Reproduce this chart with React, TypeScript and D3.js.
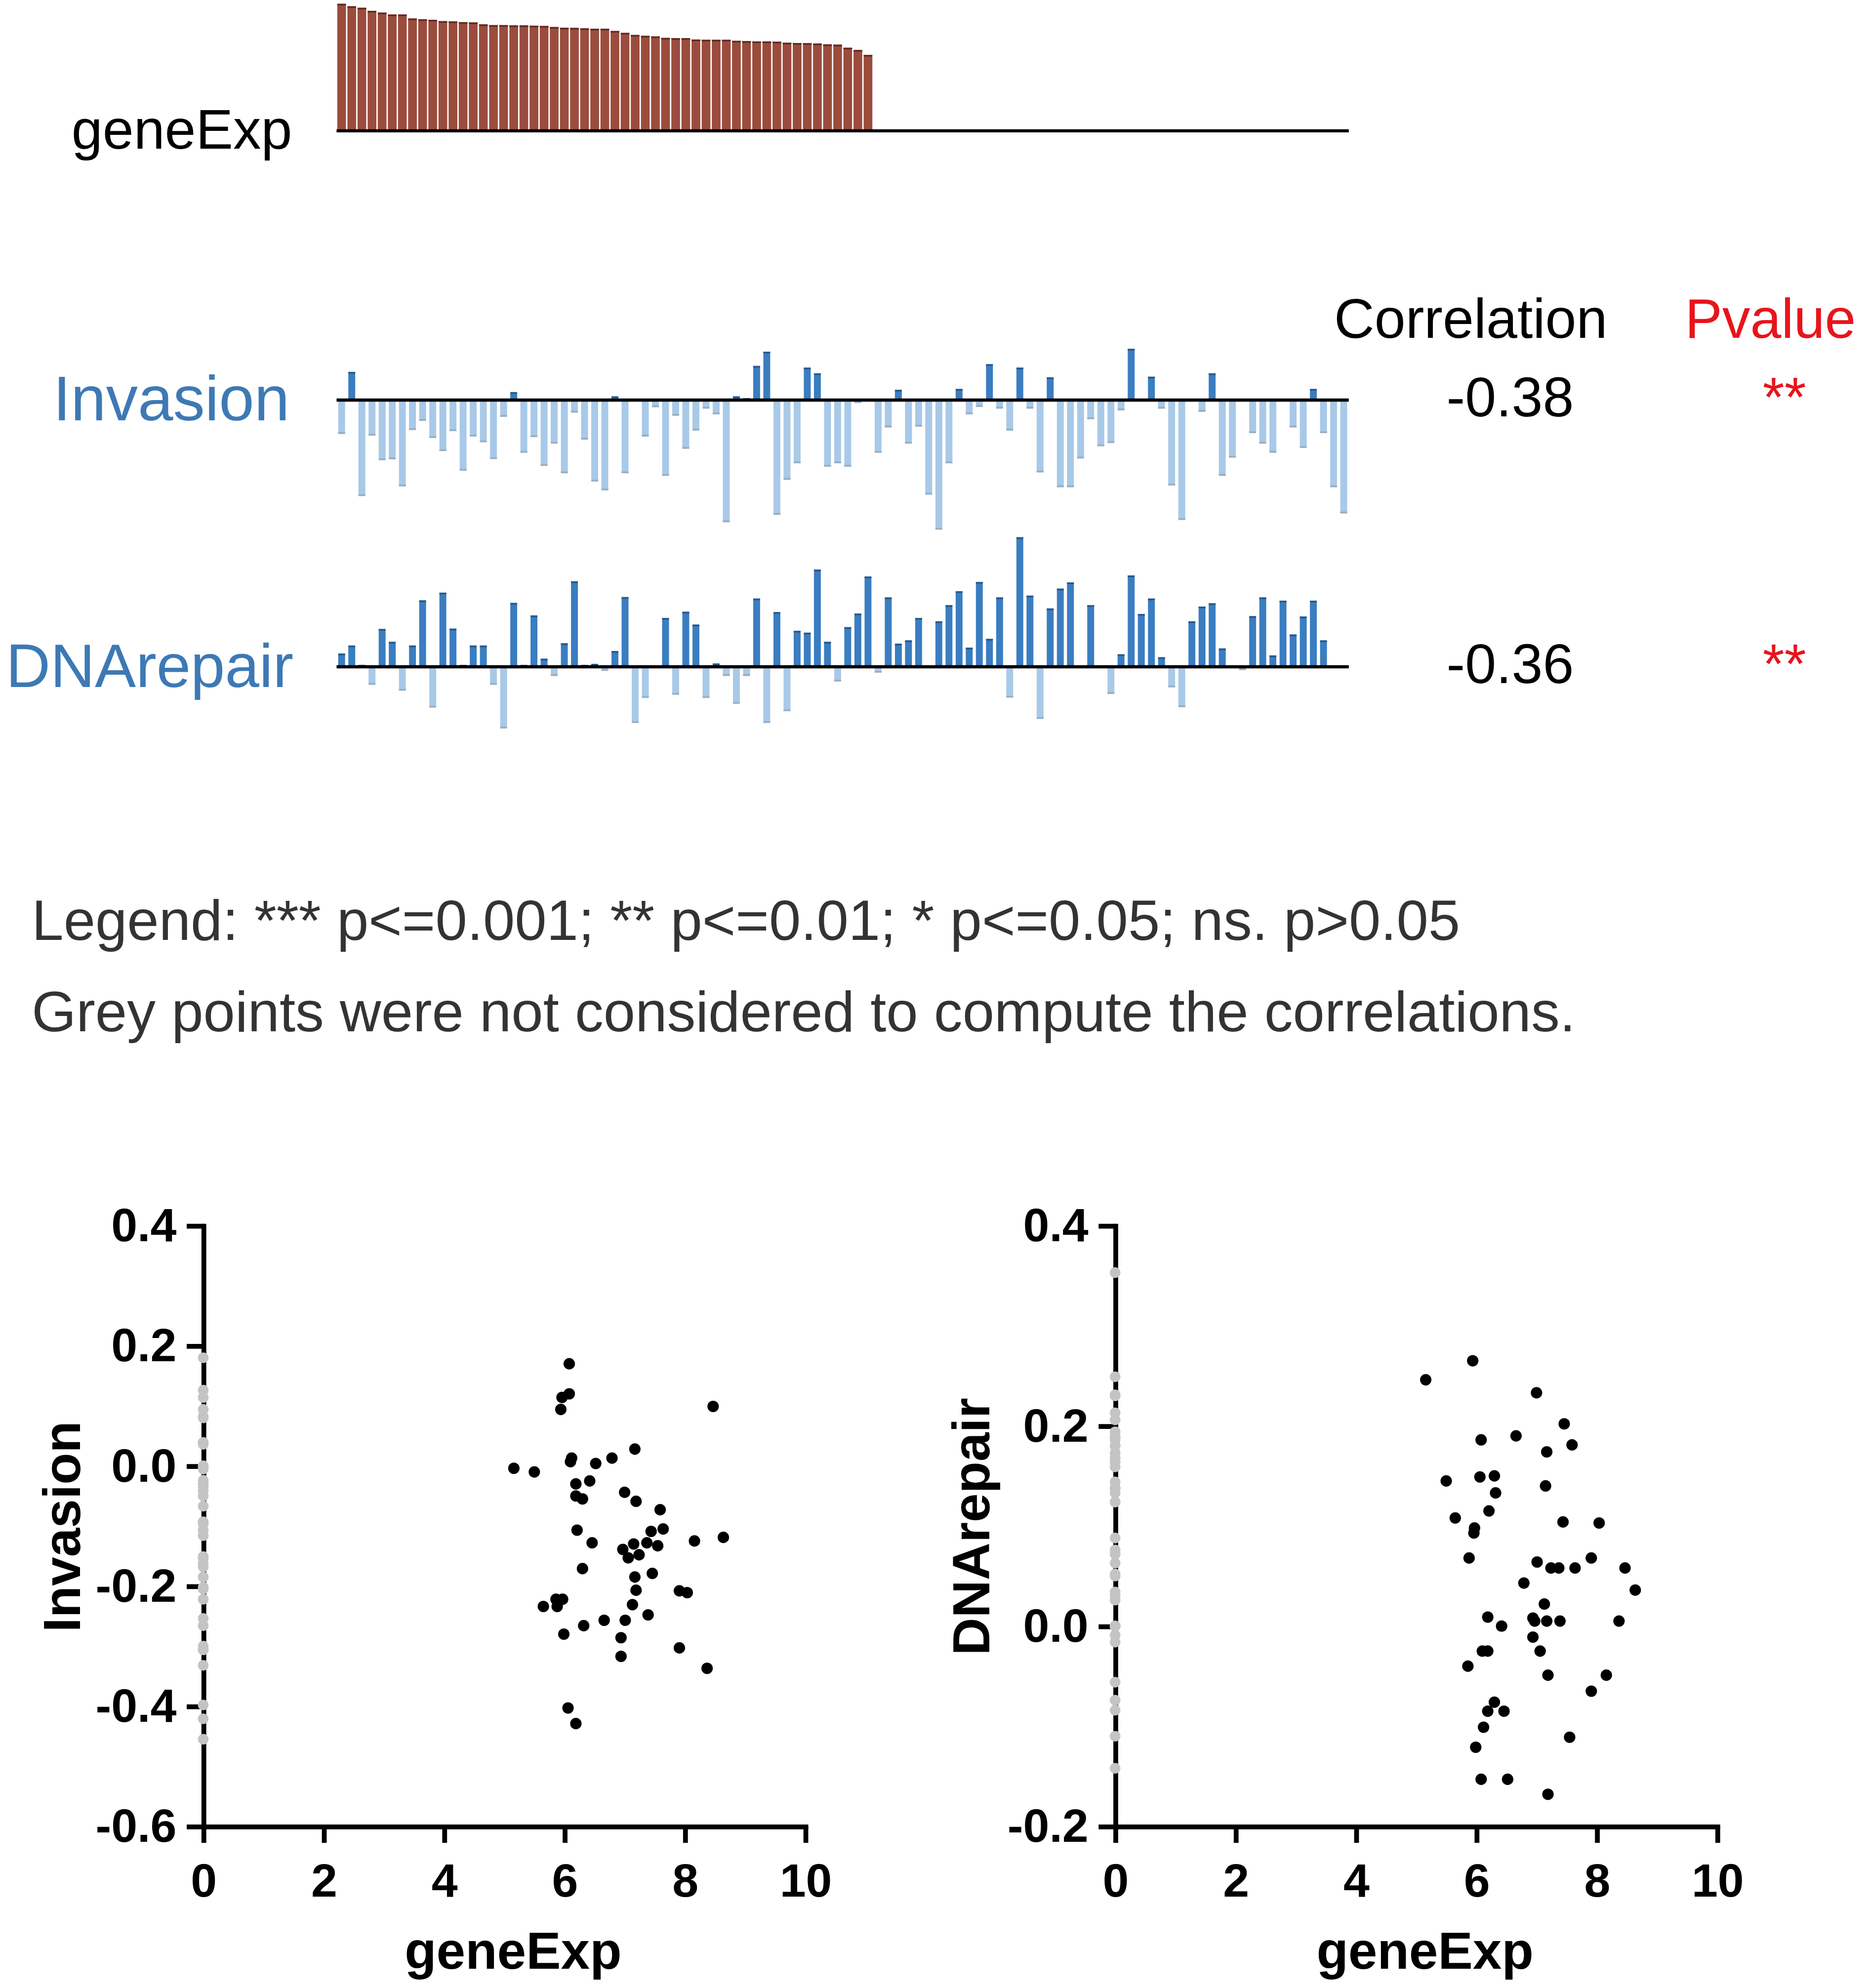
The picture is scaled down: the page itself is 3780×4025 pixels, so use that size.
import React, { useRef, useEffect } from 'react';
import * as d3 from 'd3';

// one value per sample, samples sorted by geneExp (descending)
const geneExp = [
  8.64, 8.47, 8.37, 8.16, 8.04, 7.91, 7.91, 7.64, 7.59, 7.55,
  7.46, 7.44, 7.39, 7.37, 7.24, 7.19, 7.19, 7.17, 7.17, 7.15,
  7.13, 7.06, 7.01, 7.0, 6.97, 6.94, 6.94, 6.79, 6.66, 6.52,
  6.46, 6.42, 6.32, 6.3, 6.3, 6.21, 6.19, 6.19, 6.19, 6.12,
  6.1, 6.08, 6.08, 6.06, 5.99, 5.97, 5.96, 5.94, 5.88, 5.86,
  5.65, 5.5, 5.16, 0, 0, 0, 0, 0, 0, 0,
  0, 0, 0, 0, 0, 0, 0, 0, 0, 0,
  0, 0, 0, 0, 0, 0, 0, 0, 0, 0,
  0, 0, 0, 0, 0, 0, 0, 0, 0, 0,
  0, 0, 0, 0, 0, 0, 0, 0, 0, 0
];

const invasion = [
  -0.119, 0.099, -0.337, -0.125, -0.211, -0.208, -0.303, -0.105, -0.073, -0.133,
  -0.179, -0.109, -0.248, -0.128, -0.148, -0.207, -0.059, 0.028, -0.185, -0.13,
  -0.231, -0.153, -0.257, -0.044, -0.139, -0.286, -0.317, 0.013, -0.257, 0.004,
  -0.128, -0.025, -0.266, -0.055, -0.171, -0.107, -0.03, -0.05, -0.429, 0.013,
  0.007, 0.12, 0.17, -0.403, -0.28, -0.222, 0.114, 0.094, -0.234, -0.222,
  -0.234, -0.01, -0.004, -0.185, -0.096, 0.036, -0.153, -0.093, -0.332, -0.455,
  -0.222, 0.039, -0.05, -0.024, 0.126, -0.03, -0.107, 0.114, -0.03, -0.254,
  0.08, -0.306, -0.306, -0.205, -0.067, -0.162, -0.151, -0.036, 0.18, 0.0,
  0.082, -0.03, -0.3, -0.421, -0.005, -0.041, 0.094, -0.266, -0.202, -0.005,
  -0.116, -0.153, -0.185, 0.0, -0.096, -0.168, 0.039, -0.116, -0.306, -0.398
];

const dnaRepair = [
  0.036, 0.058, 0.005, -0.049, 0.103, 0.068, -0.065, 0.058, 0.181, -0.111,
  0.202, 0.104, 0.005, 0.058, 0.058, -0.049, -0.168, 0.174, 0.005, 0.14,
  0.022, -0.025, 0.064, 0.233, 0.005, 0.008, -0.011, 0.043, 0.19, -0.153,
  -0.085, 0.0, 0.133, -0.076, 0.15, 0.115, -0.085, 0.009, -0.025, -0.101,
  -0.025, 0.186, -0.153, 0.149, -0.121, 0.098, 0.093, 0.265, 0.068, -0.04,
  0.108, 0.145, 0.246, -0.016, 0.189, 0.063, 0.072, 0.133, 0.0, 0.124,
  0.168, 0.206, 0.052, 0.231, 0.076, 0.189, -0.084, 0.353, 0.194, -0.142,
  0.159, 0.213, 0.23, 0.0, 0.168, 0.0, -0.074, 0.034, 0.249, 0.144,
  0.186, 0.026, -0.056, -0.11, 0.124, 0.164, 0.173, 0.05, 0.0, -0.009,
  0.138, 0.189, 0.031, 0.18, 0.088, 0.137, 0.18, 0.072, 0.0, 0.0
];

const correlations = ['-0.38', '-0.36'];
const pvalues = ['**', '**'];
const xTicks = [0, 2, 4, 6, 8, 10];
const invasionTicks = [-0.6, -0.4, -0.2, 0, 0.2, 0.4];
const dnaRepairTicks = [-0.2, 0, 0.2, 0.4];
const legendLines = [
  'Legend: *** p<=0.001; ** p<=0.01; * p<=0.05; ns. p>0.05',
  'Grey points were not considered to compute the correlations.'
];

const W = 1470;
const H = 1565.3;
const FONT = 'Arial, "Liberation Sans", Helvetica, sans-serif';

const App: React.FC = () => {
  const svgRef = useRef<SVGSVGElement>(null);

  useEffect(() => {
    if (!svgRef.current) return;
    const svg = d3.select(svgRef.current);
    svg.selectAll('*').remove();
    svg.attr('font-family', FONT);

    const n = geneExp.length;
    const x = d3.scaleBand<number>()
      .domain(d3.range(n))
      .range([265, 1062]);
    const step = x.step();

    // geneExp bars on top
    const geneBase = 103;
    const yGene = d3.scaleLinear()
      .domain([0, d3.max(geneExp) as number])
      .range([geneBase, 3]);

    const top = svg.append('g');
    const geneBars = top.selectAll('.gene')
      .data(geneExp.map((v, i) => ({ v, i })).filter(d => d.v > 0))
      .enter();
    geneBars.append('rect')
      .attr('x', d => (x(d.i) as number) + 0.55)
      .attr('width', step - 1.1)
      .attr('y', d => yGene(d.v))
      .attr('height', d => geneBase - yGene(d.v))
      .attr('fill', '#9B4C3D');
    geneBars.append('line')
      .attr('x1', d => (x(d.i) as number) + 0.55)
      .attr('x2', d => (x(d.i) as number) + step - 0.55)
      .attr('y1', d => yGene(d.v) + 0.6)
      .attr('y2', d => yGene(d.v) + 0.6)
      .attr('stroke', '#5e2a20')
      .attr('stroke-width', 1.3);
    top.append('line')
      .attr('x1', 265).attr('x2', 1062)
      .attr('y1', geneBase).attr('y2', geneBase)
      .attr('stroke', '#000').attr('stroke-width', 2.5);
    top.append('text')
      .attr('x', 230).attr('y', 117)
      .attr('text-anchor', 'end')
      .attr('font-size', 44)
      .attr('fill', '#000')
      .text('geneExp');

    // header
    svg.append('text')
      .attr('x', 1158).attr('y', 266)
      .attr('text-anchor', 'middle')
      .attr('font-size', 44)
      .attr('fill', '#000')
      .text('Correlation');
    svg.append('text')
      .attr('x', 1394).attr('y', 266)
      .attr('text-anchor', 'middle')
      .attr('font-size', 44)
      .attr('fill', '#E8141C')
      .text('Pvalue');

    // signed bar rows
    const rows = [
      { label: 'Invasion', values: invasion, base: 315, labelEnd: 228, labelSize: 50, corr: correlations[0], p: pvalues[0] },
      { label: 'DNArepair', values: dnaRepair, base: 525, labelEnd: 231, labelSize: 48.5, corr: correlations[1], p: pvalues[1] }
    ];
    const bw = step * 0.68;

    rows.forEach(row => {
      const maxAbs = d3.max(row.values, v => Math.abs(v)) as number;
      const y = d3.scaleLinear()
        .domain([-maxAbs, maxAbs])
        .range([row.base + 102, row.base - 102]);
      const g = svg.append('g');
      const bars = g.selectAll('.bar')
        .data(row.values.map((v, i) => ({ v, i })).filter(d => Math.abs(d.v) > 0.001))
        .enter();
      bars.append('rect')
        .attr('x', d => (x(d.i) as number) + (step - bw) / 2)
        .attr('width', bw)
        .attr('y', d => Math.min(y(d.v), y(0)))
        .attr('height', d => Math.abs(y(d.v) - y(0)))
        .attr('fill', d => d.v > 0 ? '#3A7DC1' : '#A8C9E8');
      bars.append('line')
        .attr('x1', d => (x(d.i) as number) + (step - bw) / 2)
        .attr('x2', d => (x(d.i) as number) + (step + bw) / 2)
        .attr('y1', d => y(d.v) + (d.v > 0 ? 0.7 : -0.7))
        .attr('y2', d => y(d.v) + (d.v > 0 ? 0.7 : -0.7))
        .attr('stroke', d => d.v > 0 ? '#28598b' : '#9aaebf')
        .attr('stroke-width', 1.4);
      g.append('line')
        .attr('x1', 265).attr('x2', 1062)
        .attr('y1', row.base).attr('y2', row.base)
        .attr('stroke', '#000').attr('stroke-width', 2.5);

      g.append('text')
        .attr('x', row.labelEnd).attr('y', row.base + 16)
        .attr('text-anchor', 'end')
        .attr('font-size', row.labelSize)
        .attr('fill', '#3D79B5')
        .text(row.label);
      g.append('text')
        .attr('x', 1189).attr('y', row.base + 13)
        .attr('text-anchor', 'middle')
        .attr('font-size', 44)
        .attr('fill', '#000')
        .text(row.corr);
      g.append('text')
        .attr('x', 1405).attr('y', row.base + 13)
        .attr('text-anchor', 'middle')
        .attr('font-size', 44)
        .attr('fill', '#E8141C')
        .text(row.p);
    });

    // legend lines
    legendLines.forEach((t, i) => {
      svg.append('text')
        .attr('x', 25).attr('y', 740 + i * 72)
        .attr('font-size', 45)
        .attr('fill', '#333')
        .text(t);
    });

    // scatter plots
    const plots = [
      { title: 'Invasion', values: invasion, x0: 160, x1: 634, ticks: invasionTicks, titleX: 63 },
      { title: 'DNArepair', values: dnaRepair, x0: 878, x1: 1352, ticks: dnaRepairTicks, titleX: 779 }
    ];
    const yBottom = 1438;
    const yTop = 965;

    plots.forEach(p => {
      const sx = d3.scaleLinear().domain([0, 10]).range([p.x0, p.x1]);
      const sy = d3.scaleLinear()
        .domain([p.ticks[0], p.ticks[p.ticks.length - 1]])
        .range([yBottom, yTop]);
      const g = svg.append('g');

      const xAxis = g.append('g')
        .attr('transform', `translate(0,${yBottom})`)
        .call(d3.axisBottom(sx).tickValues(xTicks).tickSize(13).tickSizeOuter(0).tickPadding(16)
          .tickFormat(d => String(d)));
      const yAxis = g.append('g')
        .attr('transform', `translate(${p.x0},0)`)
        .call(d3.axisLeft(sy).tickValues(p.ticks).tickSize(13).tickSizeOuter(0).tickPadding(8)
          .tickFormat(d => (d as number).toFixed(1)));

      [xAxis, yAxis].forEach(a => {
        a.attr('font-size', 37).attr('font-family', FONT).attr('font-weight', 'bold');
        a.selectAll('path, line').attr('stroke', '#000').attr('stroke-width', 3.8);
        a.selectAll('text').attr('fill', '#000');
      });
      yAxis.select('.domain').attr('stroke-linecap', 'square');
      xAxis.select('.domain').attr('stroke-linecap', 'square');

      const pts = p.values.map((v, i) => ({ x: geneExp[i], y: v }));
      g.selectAll('.grey')
        .data(pts.filter(d => d.x === 0))
        .enter()
        .append('circle')
        .attr('cx', d => sx(d.x))
        .attr('cy', d => sy(d.y))
        .attr('r', 4.2)
        .attr('fill', '#C4C4C4');
      g.selectAll('.black')
        .data(pts.filter(d => d.x > 0))
        .enter()
        .append('circle')
        .attr('cx', d => sx(d.x))
        .attr('cy', d => sy(d.y))
        .attr('r', 4.5)
        .attr('fill', '#000');

      g.append('text')
        .attr('x', (p.x0 + p.x1) / 2 + 7).attr('y', 1550)
        .attr('text-anchor', 'middle')
        .attr('font-size', 41)
        .attr('font-weight', 'bold')
        .attr('fill', '#000')
        .text('geneExp');
      g.append('text')
        .attr('transform', `translate(${p.titleX},1202) rotate(-90)`)
        .attr('text-anchor', 'middle')
        .attr('font-size', 41)
        .attr('font-weight', 'bold')
        .attr('fill', '#000')
        .text(p.title);
    });
  }, []);

  return (
    <svg
      ref={svgRef}
      width={3780}
      height={4025}
      viewBox={`0 0 ${W} ${H}`}
      style={{ position: 'absolute', left: 0, top: 0, background: '#fff' }}
    />
  );
};

export default App;
